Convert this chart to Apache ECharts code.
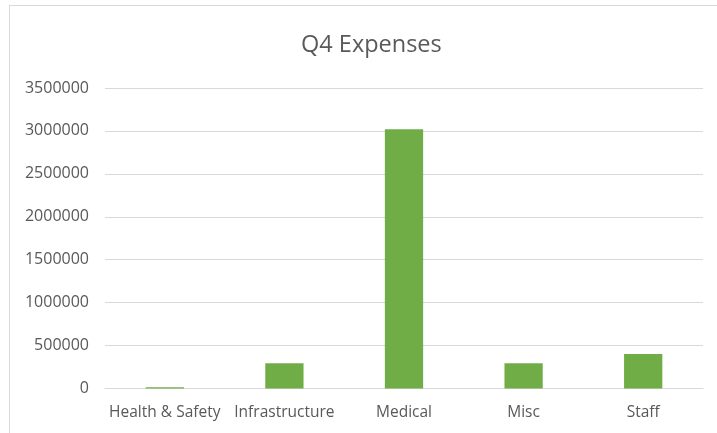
<!DOCTYPE html>
<html>
<head>
<meta charset="utf-8">
<script src="https://cdn.jsdelivr.net/npm/echarts@6/dist/echarts.min.js"></script>
<style>
html, body { margin: 0; padding: 0; background: #fff; }
#frame { position: absolute; left: 9px; top: 5px; width: 708px; height: 428px;
  border-left: 1.5px solid #d9d9d9; border-top: 1.5px solid #d9d9d9; }
#main { position: absolute; left: 0; top: 0; width: 717px; height: 433px; }
</style>
</head>
<body>
<div id="frame"></div>
<div id="main"></div>
<script>
var categories = ['Health & Safety', 'Infrastructure', 'Medical', 'Misc', 'Staff'];
var expenses = [15000, 295000, 3020000, 295000, 402000];

var chart = echarts.init(document.getElementById('main'));
var option = {
    title: {
        text: 'Q4 Expenses',
        left: 296,
        top: 28,
        textStyle: {
            color: '#595959', fontSize: 23.5, fontWeight: 'normal', fontFamily: 'Open Sans'
        }
    },
    grid: {
        left: 105,
        right: 14,
        top: 88,
        bottom: 44.5
    },
    xAxis: {
        type: 'category',
        data: categories,
        axisLine: { lineStyle: { color: '#d9d9d9', width: 1 } },
        axisTick: { show: false },
        axisLabel: {
            color: '#595959', fontSize: 15.5, fontFamily: 'Open Sans', margin: 16, interval: 0
        }
    },
    yAxis: {
        type: 'value',
        min: 0,
        max: 3500000,
        interval: 500000,
        axisLine: { show: false },
        axisTick: { show: false },
        axisLabel: {
            color: '#595959', fontSize: 16, fontFamily: 'Open Sans', margin: 16,
            formatter: function (v) { return String(v); }
        },
        splitLine: { lineStyle: { color: '#d9d9d9', width: 1 } }
    },
    series: [{
        type: 'bar',
        data: expenses,
        barWidth: '32%',
        itemStyle: { color: '#70ad47' }
    }]
};
chart.setOption(option);
</script>
</body>
</html>
